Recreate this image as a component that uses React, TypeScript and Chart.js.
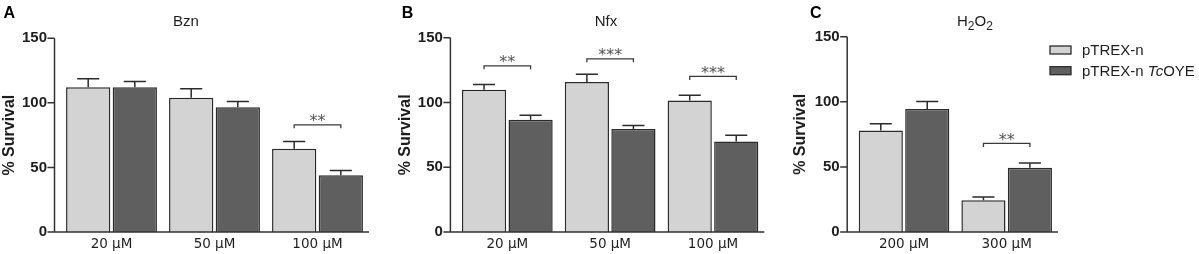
import React, { useEffect, useRef } from 'react';
import { Chart, registerables } from 'chart.js';

Chart.register(...registerables);

// ---------- data ----------
const seriesLabels = ['pTREX-n', 'pTREX-n TcOYE'];
const yTicks = [0, 50, 100, 150];

const bznDoses = ['20 µM', '50 µM', '100 µM'];
const bznCtrl = [112, 104, 64.4];
const bznCtrlErr = [6.7, 6.9, 5.6];
const bznOye = [112, 96.6, 43.9];
const bznOyeErr = [4.6, 4.5, 3.8];
const bznSig = [{ index: 2, level: 83, label: '**' }];

const nfxDoses = ['20 µM', '50 µM', '100 µM'];
const nfxCtrl = [109.9, 115.8, 101.5];
const nfxCtrlErr = [3.9, 6.0, 4.0];
const nfxOye = [86.7, 79.5, 69.8];
const nfxOyeErr = [3.5, 2.8, 4.8];
const nfxSig = [
  { index: 0, level: 128.3, label: '**' },
  { index: 1, level: 133.7, label: '***' },
  { index: 2, level: 120.1, label: '***' },
];

const h2o2Doses = ['200 µM', '300 µM'];
const h2o2Ctrl = [78, 24.3];
const h2o2CtrlErr = [5.2, 2.5];
const h2o2Oye = [94.4, 49.3];
const h2o2OyeErr = [5.8, 3.7];
const h2o2Sig = [{ index: 1, level: 68, label: '**' }];

// ---------- styles ----------
const LIGHT = '#d3d3d3';
const DARK = '#5f5f5f';
const EDGE = '#2b2b2b';
const AXIS = '#333333';
const TEXT = '#1e1e1e';
const SANS = '"Liberation Sans", Arial, sans-serif';
const DEJAVU = '"DejaVu Sans", sans-serif';

type Part = { t: string; sub?: boolean; italic?: boolean };

const legendParts: Part[][] = [
  [{ t: 'pTREX-n' }],
  [{ t: 'pTREX-n ' }, { t: 'Tc', italic: true }, { t: 'OYE' }],
];

type PanelCfg = {
  letter: string;
  title: Part[];
  labels: string[];
  ctrl: number[];
  ctrlErr: number[];
  oye: number[];
  oyeErr: number[];
  sig: { index: number; level: number; label: string }[];
  left: number;
  width: number;
  yAxisW: number;
  plotRight: number;
  padTop: number;
  xAxisH: number;
  letterX: number;
  titleDx: number;
  legend: boolean;
};

const panels: PanelCfg[] = [
  {
    letter: 'A',
    title: [{ t: 'Bzn' }],
    labels: bznDoses,
    ctrl: bznCtrl,
    ctrlErr: bznCtrlErr,
    oye: bznOye,
    oyeErr: bznOyeErr,
    sig: bznSig,
    left: 0,
    width: 396,
    yAxisW: 60,
    plotRight: 369,
    padTop: 38.3,
    xAxisH: 20,
    letterX: 3.5,
    titleDx: -28.6,
    legend: false,
  },
  {
    letter: 'B',
    title: [{ t: 'Nfx' }],
    labels: nfxDoses,
    ctrl: nfxCtrl,
    ctrlErr: nfxCtrlErr,
    oye: nfxOye,
    oyeErr: nfxOyeErr,
    sig: nfxSig,
    left: 396,
    width: 395,
    yAxisW: 59.9,
    plotRight: 368.4,
    padTop: 37.7,
    xAxisH: 20.7,
    letterX: 5.7,
    titleDx: -4.2,
    legend: false,
  },
  {
    letter: 'C',
    title: [{ t: 'H' }, { t: '2', sub: true }, { t: 'O' }, { t: '2', sub: true }],
    labels: h2o2Doses,
    ctrl: h2o2Ctrl,
    ctrlErr: h2o2CtrlErr,
    oye: h2o2Oye,
    oyeErr: h2o2OyeErr,
    sig: h2o2Sig,
    left: 791,
    width: 408,
    yAxisW: 61.7,
    plotRight: 267,
    padTop: 36.7,
    xAxisH: 21.3,
    letterX: 19,
    titleDx: 19.6,
    legend: true,
  },
];

function partFont(p: Part, size: number, sub: number) {
  return `${p.italic ? 'italic ' : ''}${p.sub ? sub : size}px ${SANS}`;
}

function drawParts(ctx: CanvasRenderingContext2D, parts: Part[], x: number, y: number, size: number, sub: number, align: 'left' | 'center') {
  let total = 0;
  parts.forEach((p) => {
    ctx.font = partFont(p, size, sub);
    total += ctx.measureText(p.t).width;
  });
  let cx = align === 'center' ? x - total / 2 : x;
  ctx.textAlign = 'left';
  ctx.textBaseline = 'alphabetic';
  parts.forEach((p) => {
    ctx.font = partFont(p, size, sub);
    ctx.fillText(p.t, cx, p.sub ? y + 4 : y);
    cx += ctx.measureText(p.t).width;
  });
}

const decorPlugin = {
  id: 'decor',
  afterDatasetsDraw(chart: any, _args: any, opts: any) {
    const { ctx, chartArea, scales } = chart;
    const y = scales.y;
    ctx.save();

    // error bars (upper only)
    chart.data.datasets.forEach((ds: any, di: number) => {
      const meta = chart.getDatasetMeta(di);
      meta.data.forEach((bar: any, i: number) => {
        const v = ds.data[i];
        const e = ds.errors[i];
        const base = y.getPixelForValue(v);
        const top = y.getPixelForValue(v + e);
        const half = bar.width / 4;
        ctx.strokeStyle = EDGE;
        ctx.lineWidth = 1.5;
        ctx.beginPath();
        ctx.moveTo(bar.x, base);
        ctx.lineTo(bar.x, top);
        ctx.moveTo(bar.x - half, top);
        ctx.lineTo(bar.x + half, top);
        ctx.stroke();
      });
    });

    // axes
    const ax = chartArea.left - 5.5;
    ctx.strokeStyle = AXIS;
    ctx.lineWidth = 1.5;
    ctx.beginPath();
    ctx.moveTo(ax, y.getPixelForValue(y.max));
    ctx.lineTo(ax, chartArea.bottom);
    ctx.lineTo(chartArea.right, chartArea.bottom);
    y.ticks.forEach((t: any) => {
      const py = y.getPixelForValue(t.value);
      ctx.moveTo(ax - 7, py);
      ctx.lineTo(ax, py);
    });
    ctx.stroke();

    // significance brackets
    const m0 = chart.getDatasetMeta(0);
    const m1 = chart.getDatasetMeta(1);
    (opts.sig || []).forEach((s: any) => {
      const x0 = m0.data[s.index].x;
      const x1 = m1.data[s.index].x;
      const py = y.getPixelForValue(s.level);
      ctx.strokeStyle = '#3a3a3a';
      ctx.lineWidth = 1.3;
      ctx.beginPath();
      ctx.moveTo(x0, py + 3.5);
      ctx.lineTo(x0, py);
      ctx.lineTo(x1, py);
      ctx.lineTo(x1, py + 3.5);
      ctx.stroke();
      ctx.fillStyle = '#555555';
      ctx.font = `16px ${DEJAVU}`;
      ctx.textAlign = 'center';
      ctx.textBaseline = 'alphabetic';
      ctx.fillText(s.label, (x0 + x1) / 2, py + 1.5);
    });

    // panel letter
    ctx.fillStyle = '#000';
    ctx.font = `bold 16px ${SANS}`;
    ctx.textAlign = 'left';
    ctx.textBaseline = 'alphabetic';
    ctx.fillText(opts.letter, opts.letterX, 18);

    // title
    ctx.fillStyle = TEXT;
    drawParts(ctx, opts.title, (chartArea.left + chartArea.right) / 2 + opts.titleDx, 25.5, 15, 12, 'center');

    // legend
    if (opts.legend) {
      const bx = chartArea.right - 8;
      chart.data.datasets.forEach((ds: any, di: number) => {
        const cy = 50 + di * 20.7;
        ctx.fillStyle = ds.backgroundColor;
        ctx.fillRect(bx, cy - 4, 21, 8);
        ctx.strokeStyle = EDGE;
        ctx.lineWidth = 1.3;
        ctx.strokeRect(bx, cy - 4, 21, 8);
        ctx.fillStyle = TEXT;
        drawParts(ctx, legendParts[di], bx + 32, cy + 5.3, 15, 12, 'left');
      });
    }
    ctx.restore();
  },
};

function Panel({ cfg }: { cfg: PanelCfg }) {
  const ref = useRef<HTMLCanvasElement>(null);
  useEffect(() => {
    const chart = new Chart(ref.current as HTMLCanvasElement, {
      type: 'bar',
      data: {
        labels: cfg.labels,
        datasets: [
          {
            label: seriesLabels[0],
            data: cfg.ctrl,
            errors: cfg.ctrlErr,
            backgroundColor: LIGHT,
            borderColor: EDGE,
            borderWidth: 1.5,
            categoryPercentage: 0.905,
            barPercentage: 0.95,
          } as any,
          {
            label: seriesLabels[1],
            data: cfg.oye,
            errors: cfg.oyeErr,
            backgroundColor: DARK,
            borderColor: EDGE,
            borderWidth: 1.5,
            categoryPercentage: 0.905,
            barPercentage: 0.95,
          } as any,
        ],
      },
      options: {
        responsive: false,
        animation: false,
        devicePixelRatio: 1,
        layout: { padding: { left: 0, top: cfg.padTop, right: cfg.width - cfg.plotRight, bottom: 0 } },
        plugins: {
          legend: { display: false },
          tooltip: { enabled: false },
          title: { display: false },
          decor: {
            sig: cfg.sig,
            letter: cfg.letter,
            letterX: cfg.letterX,
            title: cfg.title,
            titleDx: cfg.titleDx,
            legend: cfg.legend,
          },
        } as any,
        scales: {
          x: {
            grid: { display: false, drawTicks: false },
            border: { display: false },
            ticks: { font: { family: DEJAVU, size: 13.5 }, color: TEXT, padding: 4, maxRotation: 0 },
            afterFit: (s: any) => {
              s.height = cfg.xAxisH;
            },
          },
          y: {
            min: 0,
            max: 150,
            grid: { display: false, drawTicks: false },
            border: { display: false },
            afterBuildTicks: (s: any) => {
              s.ticks = yTicks.map((v) => ({ value: v }));
            },
            ticks: { font: { family: SANS, size: 15, weight: 'bold' }, color: TEXT, padding: 13 },
            title: {
              display: true,
              text: '% Survival',
              font: { family: SANS, size: 16, weight: 'bold' },
              color: TEXT,
              padding: 0,
            },
            afterFit: (s: any) => {
              s.width = cfg.yAxisW;
            },
          },
        },
      } as any,
      plugins: [decorPlugin as any],
    });
    return () => chart.destroy();
  }, [cfg]);
  return (
    <canvas
      ref={ref}
      width={cfg.width}
      height={254}
      style={{ position: 'absolute', left: cfg.left, top: 0, width: cfg.width, height: 254 }}
    />
  );
}

export default function App() {
  return (
    <div style={{ position: 'fixed', left: 0, top: 0, width: 1199, height: 254, background: '#fff', overflow: 'hidden' }}>
      {panels.map((p) => (
        <Panel key={p.letter} cfg={p} />
      ))}
    </div>
  );
}
